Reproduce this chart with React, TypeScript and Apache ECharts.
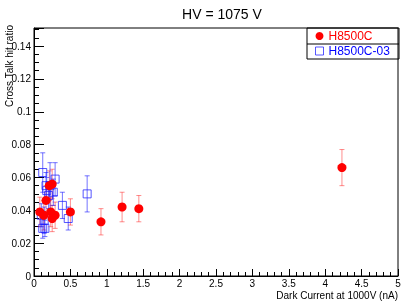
import React, { useEffect, useRef } from "react";
import * as echarts from "echarts";

// H8500C: [dark current (nA), cross talk hit ratio, error]
const h8500cX = [0.08, 0.135, 0.165, 0.21, 0.25, 0.25, 0.29, 0.23, 0.5, 0.92, 1.21, 1.44, 4.23];
const h8500cY = [0.039, 0.037, 0.046, 0.055, 0.056, 0.035, 0.037, 0.039, 0.039, 0.033, 0.042, 0.041, 0.066];
const h8500cErr = [0.009, 0.009, 0.009, 0.009, 0.009, 0.008, 0.008, 0.009, 0.008, 0.008, 0.009, 0.008, 0.011];

// H8500C-03
const h8500c03X = [0.12, 0.165, 0.175, 0.2, 0.22, 0.265, 0.29, 0.39, 0.47, 0.73, 0.1, 0.12, 0.15, 0.14];
const h8500c03Y = [0.063, 0.055, 0.052, 0.049, 0.055, 0.051, 0.059, 0.043, 0.035, 0.05, 0.037, 0.029, 0.029, 0.034];
const h8500c03Err = [0.012, 0.008, 0.008, 0.008, 0.014, 0.008, 0.01, 0.008, 0.007, 0.011, 0.007, 0.006, 0.005, 0.008];

const titleText = "HV = 1075 V";
const xName = "Dark Current at 1000V (nA)";
const yName = "Cross Talk hit ratio";
const seriesNames = ["H8500C", "H8500C-03"];

const FONT = "'Liberation Sans', Arial, Helvetica, sans-serif";

function errSeries(name: string, xs: number[], ys: number[], es: number[], color: string) {
  return {
    type: "custom",
    name: name + " err",
    z: 1,
    encode: { x: 0, y: 1 },
    data: xs.map((x, i) => [x, ys[i], es[i]]),
    renderItem: (params: any, api: any) => {
      const x = api.value(0);
      const y = api.value(1);
      const e = api.value(2);
      const top = api.coord([x, y + e]);
      const bot = api.coord([x, y - e]);
      const hw = 2.5;
      const style = { stroke: color, lineWidth: 1 };
      return {
        type: "group",
        children: [
          { type: "line", shape: { x1: top[0], y1: top[1], x2: bot[0], y2: bot[1] }, style },
          { type: "line", shape: { x1: top[0] - hw, y1: top[1], x2: top[0] + hw, y2: top[1] }, style },
          { type: "line", shape: { x1: bot[0] - hw, y1: bot[1], x2: bot[0] + hw, y2: bot[1] }, style },
        ],
      };
    },
  };
}

export default function App() {
  const ref = useRef<HTMLDivElement>(null);
  useEffect(() => {
    if (!ref.current) return;
    const chart = echarts.init(ref.current, null, { renderer: "svg" });
    const blue = "rgba(30,30,255,0.75)";
    chart.setOption({
      animation: false,
      title: {
        text: titleText,
        left: 217,
        top: 2,
        textAlign: "center",
        textStyle: { fontSize: 14, fontWeight: "normal", color: "#000", fontFamily: FONT },
      },
      legend: {
        orient: "vertical",
        left: 315,
        top: 30,
        padding: 0,
        itemWidth: 8,
        itemHeight: 8,
        itemGap: 3,
        textStyle: { fontSize: 12, fontFamily: FONT },
        data: [
          { name: seriesNames[0], icon: "circle", textStyle: { color: "#ff0000" } },
          {
            name: seriesNames[1],
            icon: "rect",
            itemStyle: { color: "rgba(0,0,0,0)", borderColor: blue, borderWidth: 1 },
            textStyle: { color: "#0000ff" },
          },
        ],
      },
      grid: {
        left: 34,
        right: 9,
        top: 28,
        bottom: 26,
        show: true,
        borderColor: "#000",
        borderWidth: 1,
        backgroundColor: "transparent",
      },
      xAxis: {
        type: "value",
        min: 0,
        max: 5,
        interval: 0.5,
        axisLine: { show: true, lineStyle: { color: "#000", width: 1 } },
        axisTick: { show: true, inside: true, length: 7, lineStyle: { color: "#000" } },
        minorTick: { show: true, splitNumber: 5, length: 4, lineStyle: { color: "#000" } },
        splitLine: { show: false },
        axisLabel: {
          color: "#000",
          fontSize: 10,
          fontFamily: FONT,
          margin: 2,
          formatter: (v: number) => String(+v.toFixed(2)),
        },
      },
      yAxis: {
        type: "value",
        min: 0,
        max: 0.151,
        interval: 0.02,
        axisLine: { show: true, lineStyle: { color: "#000", width: 1 } },
        axisTick: { show: true, inside: true, length: 10, lineStyle: { color: "#000" } },
        minorTick: { show: true, splitNumber: 4, length: 5, lineStyle: { color: "#000" } },
        splitLine: { show: false },
        axisLabel: {
          color: "#000",
          fontSize: 10,
          fontFamily: FONT,
          margin: 3,
          showMaxLabel: false,
          formatter: (v: number) => String(+v.toFixed(3)),
        },
      },
      graphic: [
        {
          type: "text",
          x: 398,
          y: 295,
          style: {
            text: xName,
            fontSize: 10,
            fontFamily: FONT,
            fill: "#000",
            textAlign: "right",
            textVerticalAlign: "middle",
          },
        },
        {
          type: "text",
          x: 9.5,
          y: 25,
          rotation: Math.PI / 2,
          style: {
            text: yName,
            fontSize: 10,
            fontFamily: FONT,
            fill: "#000",
            textAlign: "right",
            textVerticalAlign: "middle",
          },
        },
        {
          type: "rect",
          shape: { x: 307, y: 28, width: 92, height: 31 },
          style: { fill: "#fff", stroke: "#000", lineWidth: 1 },
          z: -1,
        },
        {
          type: "line",
          shape: { x1: 307, y1: 44, x2: 399, y2: 44 },
          style: { stroke: "#000", lineWidth: 1 },
          z: -1,
        },
      ],
      series: [
        errSeries(seriesNames[0], h8500cX, h8500cY, h8500cErr, "rgba(255,0,0,0.45)"),
        errSeries(seriesNames[1], h8500c03X, h8500c03Y, h8500c03Err, "rgba(0,0,255,0.55)"),
        {
          type: "scatter",
          name: seriesNames[0],
          z: 3,
          symbol: "circle",
          symbolSize: 9,
          itemStyle: { color: "#ff0000", opacity: 1 },
          data: h8500cX.map((x, i) => [x, h8500cY[i]]),
        },
        {
          type: "scatter",
          name: seriesNames[1],
          z: 2,
          symbol: "rect",
          symbolSize: 8,
          itemStyle: { color: "rgba(0,0,0,0)", borderColor: blue, borderWidth: 1, opacity: 1 },
          data: h8500c03X.map((x, i) => [x, h8500c03Y[i]]),
        },
      ],
    });
    return () => chart.dispose();
  }, []);
  return <div ref={ref} style={{ position: "fixed", left: 0, top: 0, width: 407, height: 302 }} />;
}
